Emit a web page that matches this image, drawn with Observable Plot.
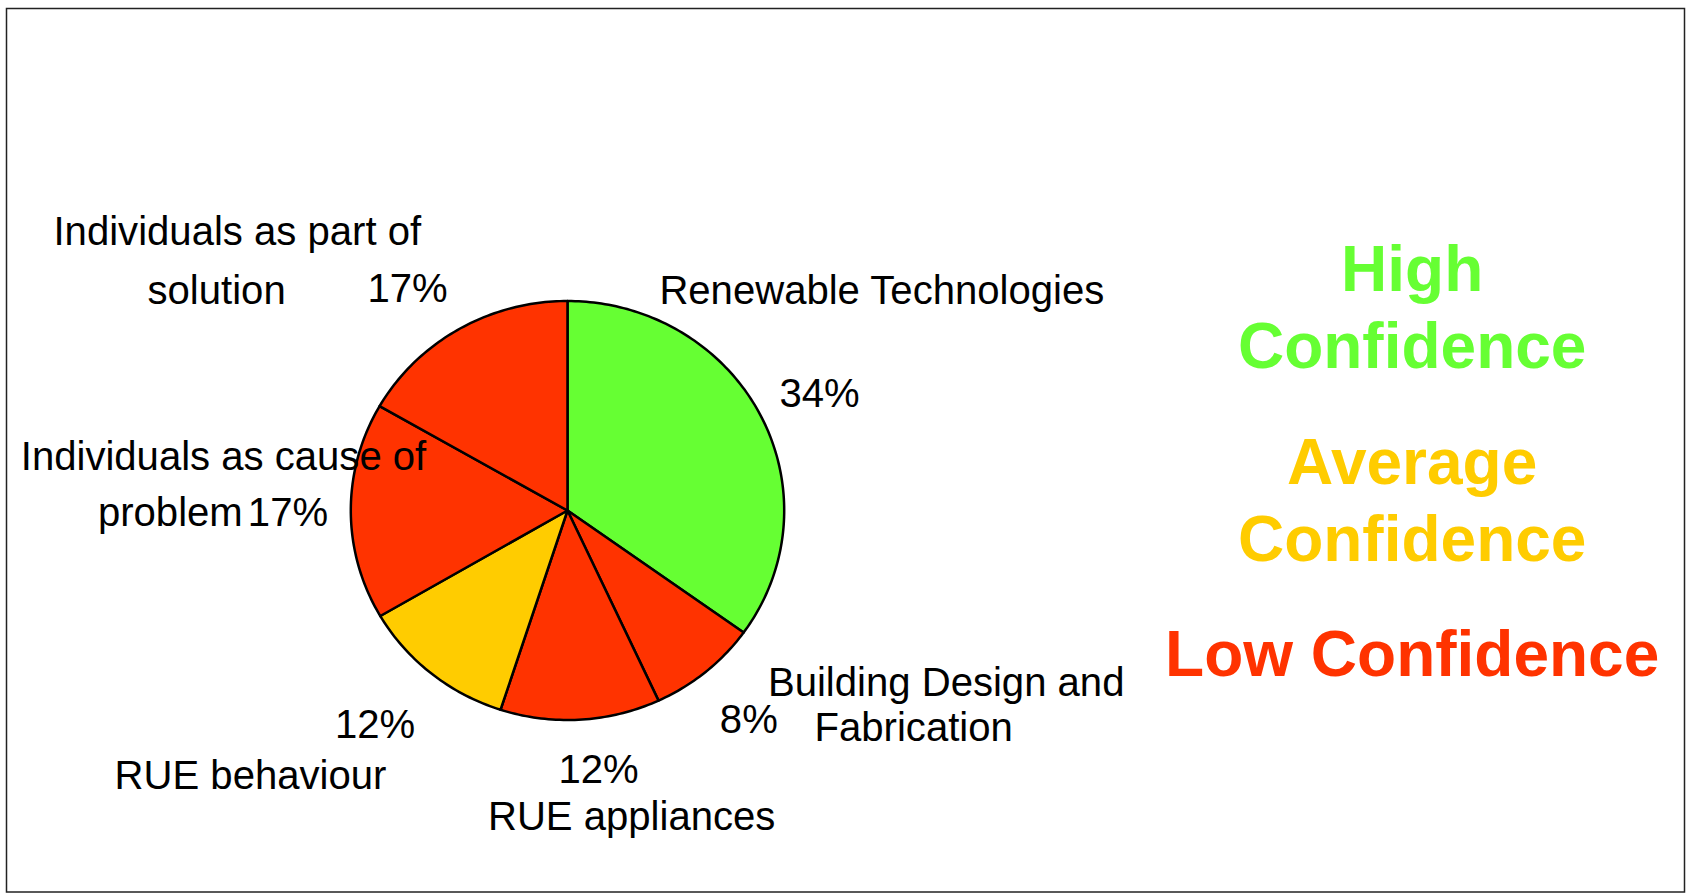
<!DOCTYPE html>
<html>
<head>
<meta charset="utf-8">
<script src="https://cdn.jsdelivr.net/npm/d3@7"></script>
<script src="https://cdn.jsdelivr.net/npm/@observablehq/plot@0.6"></script>
<style>
  html, body { margin: 0; padding: 0; background: #ffffff; }
  #chart svg { display: block; }
</style>
</head>
<body>
<div id="chart"></div>
<script>
// ---- data ----
const categories = [
  "Renewable Technologies",
  "Building Design and Fabrication",
  "RUE appliances",
  "RUE behaviour",
  "Individuals as cause of problem",
  "Individuals as part of solution"
];
const shares = [34.9, 8.2, 11.9, 11.6, 16.7, 16.7];
const shareLabels = ["34%", "8%", "12%", "12%", "17%", "17%"];
const confidence = ["High", "Low", "Low", "Average", "Low", "Low"];
const levels = ["High", "Average", "Low"];
const levelLabels = ["High\nConfidence", "Average\nConfidence", "Low Confidence"];
const levelColors = ["#66ff33", "#ffcc00", "#ff3300"];

// ---- layout (in pie-radius units; origin = pie centre, y up) ----
const nameLines = [
  ["Renewable Technologies"],
  ["Building Design and", "Fabrication"],
  ["RUE appliances"],
  ["RUE behaviour"],
  ["Individuals as cause of", "problem"],
  ["Individuals as part of", "solution"]
];
const namePos = [
  [[0.424, 0.987]],
  [[0.925, -0.886], [1.140, -1.101]],
  [[-0.367, -1.527]],
  [[-2.090, -1.327]],
  [[-2.523, 0.194], [-2.167, -0.076]],
  [[-2.372, 1.268], [-1.938, 0.986]]
];
const sharePos = [
  [0.978, 0.493], [0.703, -1.063], [-0.042, -1.302],
  [-1.073, -1.085], [-1.475, -0.072], [-0.923, 0.995]
];
const legendPos = [[3.898, 0.678], [3.898, -0.239], [3.898, -0.788]];

const W = 1688, H = 894;
const cx = 567, cy = 510, rx = 216.7, ry = 209.5;
const FONT = "'Liberation Sans', Arial, Helvetica, sans-serif";

const colorOf = new Map(levels.map((l, i) => [l, levelColors[i]]));

// ---- slices from d3.pie ----
const arcs = d3.pie().sort(null).value(d => d)(shares);
const slices = arcs.map((a, i) => {
  const n = Math.max(2, Math.ceil((a.endAngle - a.startAngle) * 180 / Math.PI));
  const pts = [{x: 0, y: 0}];
  for (let k = 0; k <= n; k++) {
    const t = a.startAngle + (a.endAngle - a.startAngle) * k / n;
    pts.push({x: Math.sin(t), y: Math.cos(t)});
  }
  pts.push({x: 0, y: 0});
  return {pts, fill: colorOf.get(confidence[i])};
});

// ---- text rows ----
const nameRows = [];
nameLines.forEach((lines, i) => lines.forEach((t, j) =>
  nameRows.push({text: t, x: namePos[i][j][0], y: namePos[i][j][1], category: categories[i]})));
const shareRows = shareLabels.map((t, i) => ({text: t, x: sharePos[i][0], y: sharePos[i][1]}));
const legendRows = levels.map((l, i) => ({text: levelLabels[i], x: legendPos[i][0], y: legendPos[i][1], level: l}));

const chart = Plot.plot({
  width: W,
  height: H,
  marginLeft: 6,
  marginTop: 8,
  marginRight: 4,
  marginBottom: 2.5,
  style: {fontFamily: FONT, background: "#ffffff", overflow: "visible"},
  x: {domain: [-1, 1], range: [cx - rx, cx + rx], axis: null},
  y: {domain: [-1, 1], range: [cy + ry, cy - ry], axis: null},
  color: {domain: levels, range: levelColors},
  marks: [
    Plot.frame({stroke: "#222", strokeWidth: 1.5}),
    ...slices.map(s => Plot.line(s.pts, {
      x: "x", y: "y", fill: s.fill, stroke: "#000", strokeWidth: 2.5, strokeLinejoin: "round"
    })),
    Plot.text(nameRows, {
      x: "x", y: "y", text: "text", textAnchor: "start", lineAnchor: "bottom",
      fontSize: 40.1, fill: "#000", fontFamily: FONT
    }),
    Plot.text(shareRows, {
      x: "x", y: "y", text: "text", textAnchor: "start", lineAnchor: "bottom",
      fontSize: 40.1, fill: "#000", fontFamily: FONT
    }),
    Plot.text(legendRows, {
      x: "x", y: "y", text: "text", textAnchor: "middle", lineAnchor: "bottom",
      fontSize: 64, fontWeight: "bold", lineHeight: 1.203, fill: d => d.level,
      fontFamily: FONT
    })
  ]
});
document.getElementById("chart").appendChild(chart);
</script>
</body>
</html>
